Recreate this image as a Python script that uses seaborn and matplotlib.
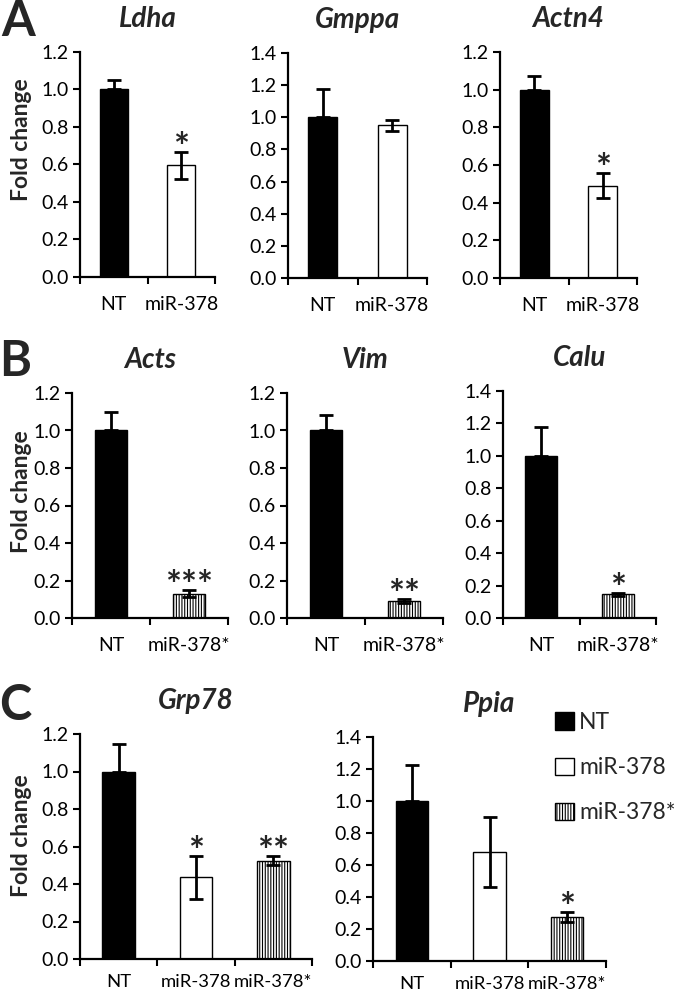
import matplotlib
matplotlib.use("Agg")
import matplotlib.pyplot as plt
import seaborn as sns
import pandas as pd
from matplotlib.patches import Patch
from matplotlib.ticker import FixedLocator

# ---------------- data ----------------
cats_A = ["NT", "miR-378"]
cats_B = ["NT", "miR-378*"]
cats_C = ["NT", "miR-378", "miR-378*"]

ldha_mean = [1.0, 0.595]
ldha_err = [0.05, 0.07]
ldha_sig = ["", "*"]

gmppa_mean = [1.0, 0.95]
gmppa_err = [0.175, 0.035]
gmppa_sig = ["", ""]

actn4_mean = [1.0, 0.49]
actn4_err = [0.07, 0.065]
actn4_sig = ["", "*"]

acts_mean = [1.0, 0.13]
acts_err = [0.10, 0.02]
acts_sig = ["", "***"]

vim_mean = [1.0, 0.09]
vim_err = [0.08, 0.01]
vim_sig = ["", "**"]

calu_mean = [1.0, 0.145]
calu_err = [0.175, 0.01]
calu_sig = ["", "*"]

grp78_mean = [1.0, 0.435, 0.525]
grp78_err = [0.145, 0.115, 0.025]
grp78_sig = ["", "*", "**"]

ppia_mean = [1.0, 0.68, 0.275]
ppia_err = [0.225, 0.22, 0.03]
ppia_sig = ["", "", "*"]

ymax_list = {"Ldha": 1.2, "Gmppa": 1.4, "Actn4": 1.2, "Acts": 1.2,
             "Vim": 1.2, "Calu": 1.4, "Grp78": 1.2, "Ppia": 1.4}

# ---------------- style ----------------
sns.set_theme(style="ticks")
plt.rcParams['font.family'] = ['Lato', 'DejaVu Sans']
plt.rcParams['hatch.linewidth'] = 0.8
plt.rcParams['hatch.color'] = 'black'

W, H = 676, 993
fig = plt.figure(figsize=(W / 100, H / 100), dpi=100)

fill = {"NT": "black", "miR-378": "white", "miR-378*": "white"}
hatch = {"NT": None, "miR-378": None, "miR-378*": "||||||"}

def rect(l, r, b, t):
    return [l / W, 1 - b / H, (r - l) / W, (b - t) / H]

panels = [
    ("Ldha", cats_A, ldha_mean, ldha_err, ldha_sig, rect(80, 215, 277, 52), True),
    ("Gmppa", cats_A, gmppa_mean, gmppa_err, gmppa_sig, rect(288, 427, 278, 53), False),
    ("Actn4", cats_A, actn4_mean, actn4_err, actn4_sig, rect(500, 637, 278, 52), False),
    ("Acts", cats_B, acts_mean, acts_err, acts_sig, rect(72, 228, 618, 393), True),
    ("Vim", cats_B, vim_mean, vim_err, vim_sig, rect(287, 443, 618, 393), False),
    ("Calu", cats_B, calu_mean, calu_err, calu_sig, rect(503, 656, 618, 391), False),
    ("Grp78", cats_C, grp78_mean, grp78_err, grp78_sig, rect(80, 312, 959, 734), True),
    ("Ppia", cats_C, ppia_mean, ppia_err, ppia_sig, rect(373, 606, 961, 737), False),
]

TICK = 14

for gene, cats, mean, err, sig, pos, ylab in panels:
    ax = fig.add_axes(pos)
    df = pd.DataFrame({"cond": cats, "val": mean})
    sns.barplot(data=df, x="cond", y="val", hue="cond", order=cats, hue_order=cats,
                palette=[fill[c] for c in cats], width=0.42, edgecolor="black",
                linewidth=1.0, errorbar=None, legend=False, ax=ax, saturation=1)
    for p, c in zip(ax.patches, cats):
        if hatch[c]:
            p.set_hatch(hatch[c])
    xs = list(range(len(cats)))
    lower = [0 if c == "NT" else e for c, e in zip(cats, err)]
    ax.errorbar(xs, mean, yerr=[lower, err], fmt="none", ecolor="black",
                elinewidth=2, capsize=5, capthick=2, zorder=5)
    for x, m, e, s in zip(xs, mean, err, sig):
        if s:
            ax.annotate(s, (x, m + e), xytext=(0, -5.5), textcoords="offset points",
                        ha="center", va="baseline", fontsize=27, fontweight="bold")
    ymax = ymax_list[gene]
    ax.set_ylim(0, ymax)
    ax.set_xlim(-0.5, len(cats) - 0.5)
    ticks = [round(0.2 * i, 1) for i in range(int(round(ymax / 0.2)) + 1)]
    ax.set_yticks(ticks)
    ax.set_yticklabels([f"{t:.1f}" for t in ticks])
    ax.xaxis.set_minor_locator(FixedLocator([i - 0.5 for i in range(len(cats) + 1)]))
    xpad = 11 if len(cats) == 3 else 14
    xsize = 13.3 if len(cats) == 3 else TICK
    ax.tick_params(axis="x", which="major", length=0, pad=xpad, labelsize=xsize, colors="black")
    ax.tick_params(axis="x", which="minor", length=5, width=1.5, direction="out", color="black")
    ax.tick_params(axis="y", length=5, width=1.5, pad=3, labelsize=TICK, colors="black")
    ax.set_xlabel("")
    ax.set_ylabel("")
    for sp in ["top", "right"]:
        ax.spines[sp].set_visible(False)
    for sp in ["left", "bottom"]:
        ax.spines[sp].set_linewidth(1.6)
        ax.spines[sp].set_color("black")
    ax.set_title(gene, fontsize=20, fontweight="bold", fontstyle="italic", pad=18)
    if ylab:
        ax.set_ylabel("Fold change", fontsize=16.5, fontweight="bold")
        b = (1 - pos[1]) * H
        hpx = pos[3] * H
        lpx = pos[0] * W
        wpx = pos[2] * W
        center = {"Ldha": 140, "Acts": 492, "Grp78": 836}[gene]
        ax.yaxis.set_label_coords((32 - lpx) / wpx, (b - center) / hpx)

# panel letters
fig.text(18 / W, 1 - 21 / H, "A", fontsize=35, fontweight="bold", ha="center", va="center")
fig.text(15 / W, 1 - 362 / H, "B", fontsize=35, fontweight="bold", ha="center", va="center")
fig.text(15 / W, 1 - 705 / H, "C", fontsize=35, fontweight="bold", ha="center", va="center")

# legend
handles = [Patch(facecolor=fill[c], edgecolor="black", hatch=hatch[c], linewidth=1.0, label=c)
           for c in cats_C]
fig.legend(handles=handles, loc="upper left", bbox_to_anchor=(546 / W, 1 - 703 / H),
           frameon=False, fontsize=16.5, handlelength=0.8, handleheight=0.8,
           handletextpad=0.25, labelspacing=1.05, borderaxespad=0)

fig.savefig("out.png", dpi=100)
